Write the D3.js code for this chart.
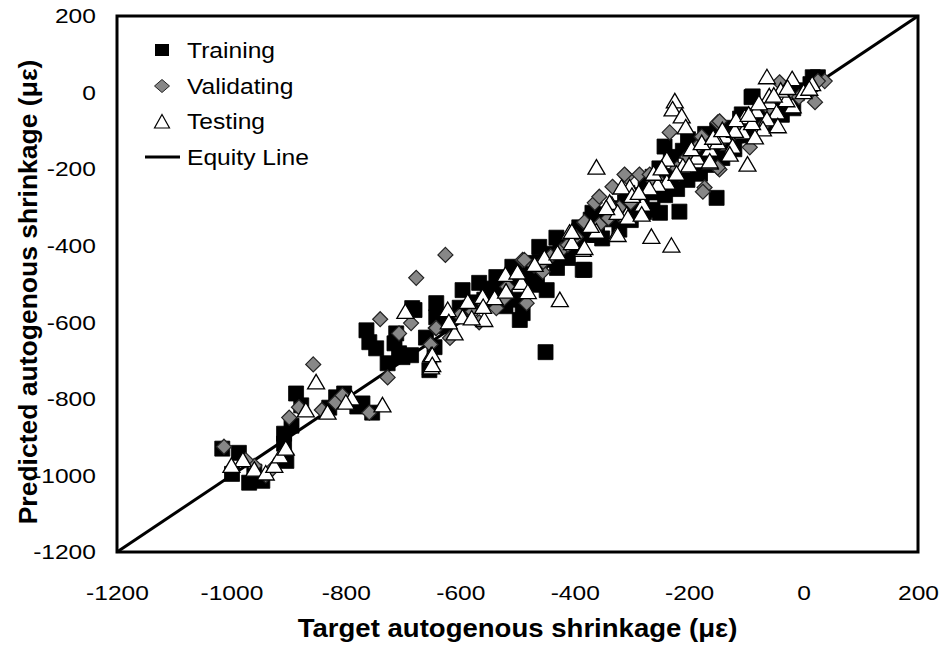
<!DOCTYPE html>
<html>
<head>
<meta charset="utf-8">
<script src="https://cdn.jsdelivr.net/npm/d3@7"></script>
<style>
  body { margin: 0; background: #fff; }
  text { font-family: Arial, "Liberation Sans", sans-serif; fill: #000; }
</style>
</head>
<body>
<svg id="chart" width="942" height="645"></svg>
<script>
// Target vs predicted autogenous shrinkage (µε)

const ticks = [-1200, -1000, -800, -600, -400, -200, 0, 200];

const training = [
  [-1016,-930],[-987,-941],[-999,-996],[-969,-1019],[-946,-1014],[-960,-990],[-908,-891],[-908,-917],
  [-904,-962],[-887,-786],[-878,-817],[-895,-870],[-829,-823],[-817,-796],[-803,-786],[-771,-812],
  [-754,-836],[-780,-820],[-764,-621],[-759,-652],[-747,-668],[-712,-629],[-715,-655],[-707,-681],
  [-701,-691],[-686,-686],[-727,-707],[-654,-725],[-684,-563],[-642,-550],[-642,-587],[-645,-665],
  [-596,-516],[-660,-640],[-630,-610],[-680,-568],[-567,-497],[-537,-482],[-509,-455],[-479,-445],
  [-449,-437],[-386,-463],[-449,-516],[-491,-576],[-496,-594],[-451,-678],[-462,-403],[-432,-379],
  [-383,-463],[-322,-358],[-264,-306],[-369,-314],[-251,-314],[-260,-261],[-264,-220],[-217,-311],
  [-152,-275],[-91,-12],[-202,-122],[-108,-57],[25,40],[16,40],[-89,-10],
  [-620,-598],[-583,-562],[-558,-541],[-541,-518],[-522,-503],[-498,-481],[-478,-468],[-461,-442],
  [-438,-421],[-418,-409],[-402,-388],[-379,-372],[-361,-347],[-338,-331],[-322,-308],[-297,-292],
  [-283,-268],[-258,-243],[-241,-229],[-219,-203],[-198,-182],[-182,-158],[-161,-152],[-139,-128],
  [-118,-112],[-102,-88],[-79,-76],[-58,-49],[-41,-33],[-22,-17],[2,6],[12,22],
  [-601,-562],[-552,-528],[-521,-558],[-503,-541],[-472,-502],[-431,-458],[-412,-432],[-352,-381],
  [-331,-302],[-302,-333],[-279,-312],[-242,-268],[-221,-252],[-203,-228],[-181,-212],[-163,-189],
  [-142,-171],[-121,-148],[-99,-112],[-82,-61],[-61,-82],[-38,-58],[-18,-41],[-232,-168],
  [-243,-141],[-211,-152],[-189,-138],[-172,-108],[-151,-99],[-128,-92],[-111,-68],[-72,-41],
  [-571,-548],[-548,-512],[-529,-532],[-508,-492],[-487,-472],[-466,-478],[-425,-398],[-395,-402],
  [-362,-372],[-346,-318],[-312,-287],[-292,-302],[-272,-251],[-232,-218],[-12,-2],[-52,-22],
  [-392,-352],[-372,-332],[-308,-262],[-276,-232],[-252,-198],[-196,-172],[-168,-142],[-132,-118]
];

const validating = [
  [-1013,-925],[-960,-975],[-975,-960],[-940,-1000],[-930,-985],[-899,-849],[-857,-710],[-818,-809],
  [-806,-791],[-759,-836],[-727,-744],[-707,-629],[-686,-602],[-643,-615],[-740,-592],[-677,-484],
  [-626,-424],[-642,-615],[-523,-537],[-537,-563],[-484,-550],[-456,-468],[-491,-437],[-567,-600],
  [-488,-437],[-423,-411],[-383,-340],[-357,-345],[-365,-288],[-357,-272],[-383,-338],[-334,-246],
  [-309,-220],[-313,-214],[-287,-214],[-269,-214],[-234,-104],[-150,-78],[-178,-117],[20,-25],
  [37,30],[-42,27],[25,30],[-147,-75],[-178,-115],[-187,-143],[-147,-201],[-173,-248],
  [-94,-143],[-176,-259],[-150,-196],[-601,-582],[-562,-546],[-518,-507],[-471,-452],[-442,-428],
  [-412,-398],[-341,-328],[-302,-287],[-262,-232],[-221,-198],[-122,-108],[-61,-41],[-22,-9],
  [-92,-61],[-882,-822],[-842,-829],[-652,-658],[-618,-641],[-398,-377],[-322,-301],[-248,-238],
  [-203,-168],[-112,-92],[-35,-18],[-8,-12],[-72,-88],[-138,-118],[-455,-442],[-578,-572]
];

const testing = [
  [-980,-960],[-960,-985],[-940,-995],[-925,-975],[-915,-950],[-905,-930],[-1000,-975],
  [-852,-757],[-832,-836],[-790,-799],[-736,-817],[-651,-686],[-651,-718],[-696,-573],[-622,-568],
  [-587,-547],[-596,-587],[-610,-629],[-561,-534],[-540,-537],[-521,-476],[-493,-497],[-482,-521],
  [-453,-432],[-426,-542],[-558,-594],[-649,-686],[-649,-712],[-409,-366],[-405,-393],[-386,-411],
  [-362,-363],[-327,-371],[-266,-377],[-335,-293],[-309,-319],[-281,-293],[-362,-196],[-231,-400],
  [-239,-175],[-211,-193],[-187,-180],[-164,-183],[-339,-288],[-325,-314],[-307,-327],[-304,-248],
  [-318,-248],[-239,-235],[-255,-241],[-283,-319],[-325,-372],[-405,-364],[-383,-406],[-64,40],
  [-20,35],[0,1],[15,22],[-33,-10],[-19,-36],[-82,-49],[-59,-25],[-47,-52],[-103,-65],[-64,-70],
  [-71,-96],[-45,-88],[-138,-115],[-106,-104],[-124,-141],[-164,-149],[-187,-170],[-164,-180],
  [-129,-162],[-98,-188],[-85,-117],[-225,-23],[-229,-44],[-213,-62],[-206,-91],[-800,-810],
  [-870,-830],[-500,-470],[-470,-450],[-430,-420],[-300,-270],[-270,-250],[-200,-190],[-150,-130],
  [-120,-100],[-90,-80],[-30,-20],[10,10],[-60,-10],[-40,5],[-560,-560],[-580,-590],[-620,-600],
  [-520,-520],[-288,-262],[-262,-212],[-248,-198],[-222,-212],[-196,-148],[-178,-132],[-158,-118],
  [-142,-98],[-118,-72],[-96,-58],[-78,-28],[-52,-8],[-28,12],[-345,-302],[-372,-348]
];

const legendItems = ["Training", "Validating", "Testing", "Equity Line"];

const svg = d3.select("#chart");
const margin = {left: 117, top: 16, right: 24, bottom: 93};
const W = 942 - margin.left - margin.right;
const H = 645 - margin.top - margin.bottom;

const x = d3.scaleLinear().domain([-1200, 200]).range([0, W]);
const y = d3.scaleLinear().domain([-1200, 200]).range([H, 0]);

const g = svg.append("g").attr("transform", `translate(${margin.left},${margin.top})`);

// equity line first, markers go over it
g.append("line")
  .attr("x1", x(-1200)).attr("y1", y(-1200))
  .attr("x2", x(200)).attr("y2", y(200))
  .attr("stroke", "#000").attr("stroke-width", 3);

// marker shapes
const squarePath = "M-7.5,-7.5H7.5V7.5H-7.5Z";
const diamondPath = "M0,-7.5L7.5,0L0,7.5L-7.5,0Z";
const trianglePath = "M0,-8L8.5,6.5H-8.5Z";

function drawSeries(data, path, fill, stroke, sw) {
  g.append("g").selectAll("path")
    .data(data)
    .join("path")
    .attr("d", path)
    .attr("transform", d => `translate(${x(d[0])},${y(d[1])})`)
    .attr("fill", fill)
    .attr("stroke", stroke)
    .attr("stroke-width", sw);
}

drawSeries(training, squarePath, "#000", "#000", 0.8);
drawSeries(validating, diamondPath, "#878787", "#222", 1.2);
drawSeries(testing, trianglePath, "#fff", "#000", 1.3);

// frame
g.append("rect")
  .attr("width", W).attr("height", H)
  .attr("fill", "none").attr("stroke", "#000").attr("stroke-width", 3);

// text in the reference is a little stretched sideways
const stretch = 1.17;

const xAxis = g.append("g").attr("transform", `translate(0,${H})`)
  .call(d3.axisBottom(x).tickValues(ticks).tickSize(0).tickPadding(33).tickFormat(d => String(d)));
xAxis.select(".domain").remove();
xAxis.selectAll("text")
  .attr("font-size", 21).attr("font-family", "Arial, 'Liberation Sans', sans-serif").attr("fill", "#000")
  .attr("transform", `scale(${stretch},1)`);

const yAxis = g.append("g")
  .call(d3.axisLeft(y).tickValues(ticks).tickSize(0).tickPadding(18).tickFormat(d => String(d)));
yAxis.select(".domain").remove();
yAxis.selectAll("text")
  .attr("font-size", 21).attr("font-family", "Arial, 'Liberation Sans', sans-serif").attr("fill", "#000")
  .attr("transform", `scale(${stretch},1)`);

// axis titles
svg.append("text")
  .attr("transform", `translate(${margin.left + W / 2},637) scale(1.06,1)`)
  .attr("text-anchor", "middle")
  .attr("font-size", 26).attr("font-weight", "bold")
  .text("Target autogenous shrinkage (με)");

svg.append("text")
  .attr("transform", "translate(37,292) rotate(-90)")
  .attr("text-anchor", "middle")
  .attr("font-size", 26.5).attr("font-weight", "bold")
  .text("Predicted autogenous shrinkage (με)");

// legend
const legendY = [50, 86, 121.5, 157];
const legend = svg.append("g").attr("transform", "translate(162,0)");
legendItems.forEach((name, i) => {
  const row = legend.append("g").attr("transform", `translate(0,${legendY[i]})`);
  if (i === 0) row.append("path").attr("d", "M-7,-6H7V6H-7Z").attr("fill", "#000");
  if (i === 1) row.append("path").attr("d", "M0,-6.5L7.5,0L0,6.5L-7.5,0Z").attr("fill", "#878787").attr("stroke", "#222").attr("stroke-width", 1);
  if (i === 2) row.append("path").attr("d", "M0,-7L7.5,6.5H-7.5Z").attr("fill", "#fff").attr("stroke", "#000").attr("stroke-width", 1.2);
  if (i === 3) row.append("line").attr("x1", -17).attr("x2", 18).attr("stroke", "#000").attr("stroke-width", 3);
  row.append("text")
    .attr("transform", `translate(25,0) scale(1.12,1)`)
    .attr("dy", "0.35em")
    .attr("font-size", 22)
    .text(name);
});
</script>
</body>
</html>
